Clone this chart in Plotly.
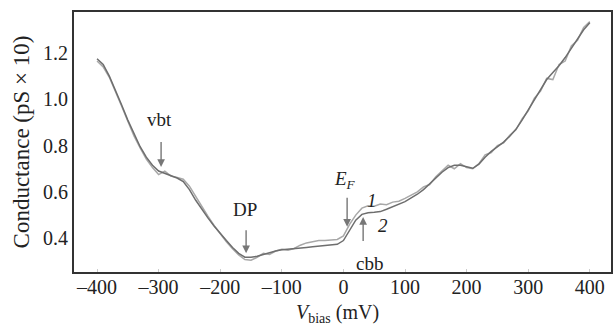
import plotly.graph_objects as go

# ---- data ----
v_bias = [-400, -390, -380, -370, -360, -350, -340, -330, -320, -310,
          -300, -290, -280, -270, -260, -250, -240, -230, -220, -210,
          -200, -190, -180, -170, -160, -150, -140, -130, -120, -110,
          -100, -90, -80, -70, -60, -50, -40, -30, -20, -10,
          0, 10, 20, 30, 40, 50, 60, 70, 80, 90,
          100, 110, 120, 130, 140, 150, 160, 170, 180, 190,
          200, 210, 220, 230, 240, 250, 260, 270, 280, 290,
          300, 310, 320, 330, 340, 350, 360, 370, 380, 390, 400]

curve_2 = [1.175, 1.150, 1.100, 1.040, 0.975, 0.910, 0.850, 0.795, 0.750, 0.715,
           0.690, 0.680, 0.672, 0.660, 0.645, 0.610, 0.565, 0.525, 0.488, 0.453,
           0.420, 0.390, 0.360, 0.335, 0.318, 0.318, 0.322, 0.330, 0.338, 0.345,
           0.350, 0.352, 0.355, 0.355, 0.360, 0.363, 0.366, 0.369, 0.371, 0.374,
           0.390, 0.435, 0.478, 0.503, 0.510, 0.512, 0.515, 0.525, 0.535, 0.545,
           0.558, 0.574, 0.590, 0.610, 0.635, 0.660, 0.685, 0.705, 0.715, 0.715,
           0.710, 0.702, 0.720, 0.750, 0.775, 0.795, 0.815, 0.840, 0.870, 0.910,
           0.955, 1.000, 1.040, 1.085, 1.115, 1.145, 1.180, 1.220, 1.260, 1.300, 1.330]

curve_1 = [1.165, 1.140, 1.095, 1.035, 0.970, 0.905, 0.842, 0.790, 0.742, 0.705,
           0.675, 0.690, 0.668, 0.662, 0.655, 0.625, 0.580, 0.535, 0.495, 0.455,
           0.418, 0.385, 0.355, 0.328, 0.308, 0.305, 0.318, 0.335, 0.330, 0.345,
           0.352, 0.348, 0.356, 0.370, 0.380, 0.385, 0.390, 0.390, 0.392, 0.395,
           0.410, 0.460, 0.500, 0.530, 0.540, 0.538, 0.548, 0.545, 0.556, 0.560,
           0.572, 0.585, 0.600, 0.622, 0.632, 0.665, 0.690, 0.715, 0.700, 0.722,
           0.705, 0.700, 0.722, 0.760, 0.770, 0.800, 0.812, 0.845, 0.868, 0.915,
           0.950, 1.005, 1.035, 1.090, 1.085, 1.150, 1.165, 1.230, 1.255, 1.310, 1.335]

x_ticks = [-400, -300, -200, -100, 0, 100, 200, 300, 400]
y_ticks = [0.4, 0.6, 0.8, 1.0, 1.2]
y_tick_labels = ["0.4", "0.6", "0.8", "1.0", "1.2"]

FONT = "Liberation Serif, Times New Roman, DejaVu Serif, serif"

fig = go.Figure()
fig.add_trace(go.Scatter(x=v_bias, y=curve_1, mode="lines",
                         line=dict(color="#a8a8a8", width=1.5), showlegend=False))
fig.add_trace(go.Scatter(x=v_bias, y=curve_2, mode="lines",
                         line=dict(color="#6e6e6e", width=1.5), showlegend=False))

arrow_col = "#777777"
# arrows (tip at x,y; tail offset in px)
arrows = [(-296, 0.708, 0, -37), (-158, 0.335, 0, -35),
          (6, 0.450, 0, -41), (32, 0.492, 0, 36)]
for x, y, axp, ayp in arrows:
    fig.add_annotation(x=x, y=y, ax=axp, ay=ayp, text=" ", showarrow=True,
                       arrowhead=2, arrowsize=1.1, arrowwidth=1.4,
                       arrowcolor=arrow_col)

labels = [(-299, 0.911, "vbt"), (-160, 0.522, "DP"),
          (2, 0.652, "<i>E</i><sub><i>F</i></sub>"),
          (46, 0.565, "<i>1</i>"), (64, 0.457, "<i>2</i>"),
          (43, 0.293, "cbb")]
for x, y, t in labels:
    fig.add_annotation(x=x, y=y, text=t, showarrow=False,
                       font=dict(family=FONT, size=19, color="#222"))

# x-axis title as annotation
fig.add_annotation(xref="paper", yref="paper", x=0.49, y=0, yshift=-40,
                   yanchor="middle", text="<i>V</i><sub>bias</sub> (mV)",
                   showarrow=False, font=dict(family=FONT, size=20, color="#222"))

# frame
fig.add_shape(type="rect", xref="paper", yref="paper", x0=0, x1=1, y0=0, y1=1,
              line=dict(color="#333", width=2), layer="above")

fig.update_layout(
    width=615, height=328,
    margin=dict(l=73, r=3, t=11, b=55),
    paper_bgcolor="white", plot_bgcolor="white",
    font=dict(family=FONT, size=19, color="#222"),
)
fig.update_xaxes(range=[-439, 436], tickvals=x_ticks,
                 ticktext=[("\u2013" + str(-t)) if t < 0 else str(t) for t in x_ticks],
                 showgrid=False, zeroline=False, showline=False,
                 ticks="inside", ticklen=4, tickcolor="#ccc",
                 ticklabelstandoff=0,
                 tickfont=dict(size=20), automargin=False)
fig.update_yaxes(range=[0.25, 1.381], tickvals=y_ticks, ticktext=y_tick_labels,
                 showgrid=False, zeroline=False, showline=False,
                 ticks="", ticklabelstandoff=4, automargin=False,
                 tickfont=dict(size=20),
                 title=dict(text="Conductance (pS \u00d7 10)", standoff=6))

fig.write_html("out.html", config={"displayModeBar": False},
               post_script="document.body.style.margin='0';document.body.style.padding='0';")
